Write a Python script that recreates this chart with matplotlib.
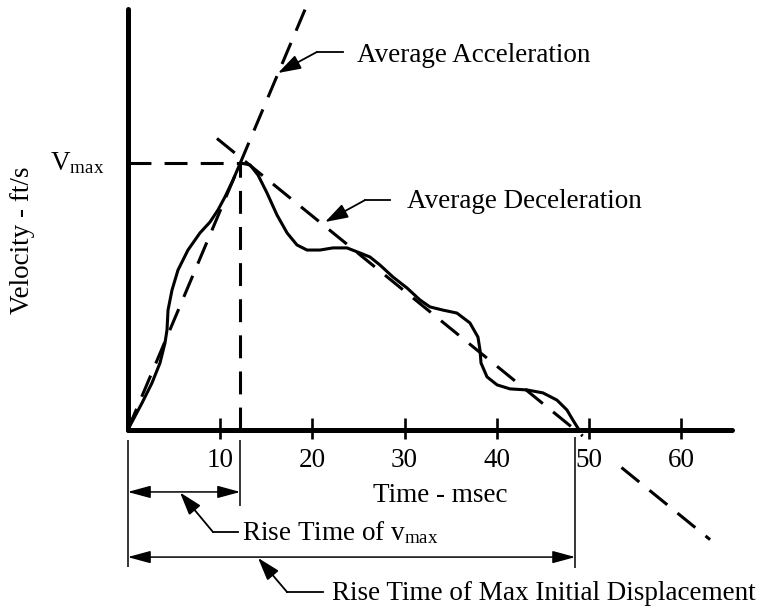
import matplotlib
matplotlib.use('Agg')
import matplotlib.pyplot as plt
import numpy as np

matplotlib.rcParams['font.family'] = 'Liberation Serif'
matplotlib.rcParams['mathtext.fontset'] = 'custom'
matplotlib.rcParams['mathtext.rm'] = 'Liberation Serif'
matplotlib.rcParams['lines.scale_dashes'] = False

# velocity pulse (time in msec, velocity normalised to Vmax)
time = [0.0, 1.55, 2.63, 3.50, 4.04, 4.26, 4.37, 4.80, 5.45, 6.53, 7.83, 8.92,
        9.78, 10.54, 11.41, 12.2, 13.25, 14.12, 15.09, 16.18, 17.27, 18.34,
        19.43, 20.83, 22.24, 23.76, 25.17, 26.25, 27.33, 28.74, 30.26, 31.67,
        32.75, 34.16, 35.67, 37.08, 37.95, 38.17, 38.28, 38.93, 40.02, 41.42,
        43.26, 44.99, 46.51, 47.59, 48.24, 48.78, 48.9]
velocity = [0.0, 0.101, 0.176, 0.251, 0.326, 0.375, 0.449, 0.524, 0.599, 0.674,
            0.738, 0.779, 0.824, 0.873, 0.936, 1.0, 0.993, 0.955, 0.888, 0.805,
            0.738, 0.693, 0.674, 0.674, 0.682, 0.682, 0.663, 0.648, 0.618, 0.573,
            0.532, 0.487, 0.461, 0.449, 0.438, 0.401, 0.348, 0.300, 0.251, 0.199,
            0.169, 0.154, 0.150, 0.139, 0.112, 0.075, 0.037, 0.007, 0.0]

t_peak = 12.2
v_max = 1.0
t_end = 48.5          # where the average deceleration line meets the axis
x_ticks = [10, 20, 30, 40, 50, 60]
x_tick_labels = ['10', '20', '30', '40', '50', '60']

# guide lines (start/end in data units)
accel_t = [0.0, 19.5]
decel_upper_t = [9.67, 49.3]
decel_lower_t = [53.5, 63.1]
decel_slope = v_max * 1.092 / (t_end - 9.67)

fig = plt.figure(figsize=(7.65, 6.08), dpi=100)
ax = fig.add_axes([0, 0, 1, 1])
ax.set_xlim(-13.835, 69.05)
ax.set_ylim(-0.6667, 1.6105)
ax.axis('off')

fs = 19.5
dash = (0, (16.5, 9.5))

# axes
ax.plot([0, 0], [0, 1.577], color='black', lw=3.6, solid_capstyle='round')
ax.plot([0, 65.5], [0, 0], color='black', lw=3.6, solid_capstyle='round')
ax.vlines(x_ticks, -0.034, 0.045, color='black', lw=1.9)
for xt, lab in zip(x_ticks, x_tick_labels):
    ax.text(xt, -0.139, lab, ha='center', va='baseline', fontsize=fs)

ax.text(33.89, -0.270, 'Time - msec', ha='center', va='baseline', fontsize=fs)
ax.text(-11.45, 0.71, 'Velocity - ft/s', ha='center', va='center',
        rotation=90, fontsize=fs)
ax.text(-8.42, 0.975, r'$\mathrm{V_{max}}$', ha='left', va='baseline', fontsize=fs)

# velocity curve
ax.plot(time, velocity, color='black', lw=2.2, solid_joinstyle='round',
        solid_capstyle='round')

# Vmax reference lines
ax.plot([0, t_peak], [v_max, v_max], color='black', lw=2.2, linestyle=dash)
ax.plot([t_peak, t_peak], [0, v_max], color='black', lw=2.2, linestyle=dash)

# average acceleration / deceleration
accel_v = [t * v_max / t_peak for t in accel_t]
ax.plot(accel_t, accel_v, color='black', lw=2.2, linestyle=dash)
for seg in (decel_upper_t, decel_lower_t):
    ax.plot(seg, [decel_slope * (t_end - t) for t in seg], color='black',
            lw=2.2, linestyle=dash)


def leader(points, tip, text, text_xy):
    xs, ys = zip(*points)
    ax.plot(xs, ys, color='black', lw=1.3)
    ax.annotate('', xy=tip, xytext=points[-1],
                arrowprops=dict(arrowstyle='-|>,head_length=1.4,head_width=0.45',
                                mutation_scale=10, color='black', lw=1.3,
                                shrinkA=0, shrinkB=0))
    ax.text(text_xy[0], text_xy[1], text, ha='left', va='baseline', fontsize=fs)


leader([(23.33, 1.416), (20.51, 1.416)], (16.28, 1.337),
       'Average Acceleration', (24.84, 1.378))
leader([(28.42, 0.861), (25.71, 0.861)], (21.38, 0.779),
       'Average Deceleration', (30.26, 0.831))

# dimension lines below the axis
ax.vlines([0, t_peak, t_end], [-0.037, -0.037, -0.026], [-0.513, -0.285, -0.517],
          color='black', lw=1.1)
dim_style = dict(arrowstyle='<|-|>,head_length=1.4,head_width=0.38',
                 mutation_scale=10, color='black', lw=1.1, shrinkA=0, shrinkB=0)
ax.annotate('', xy=(0, -0.232), xytext=(t_peak, -0.232), arrowprops=dim_style)
ax.annotate('', xy=(0, -0.476), xytext=(t_end, -0.476), arrowprops=dim_style)

leader([(11.95, -0.382), (9.24, -0.382)], (5.67, -0.234),
       r'Rise Time of $\mathrm{v_{max}}$', (12.4, -0.412))
leader([(21.15, -0.607), (17.27, -0.607)], (14.12, -0.479),
       'Rise Time of Max Initial Displacement', (22.13, -0.637))

fig.savefig('out.png', dpi=100, facecolor='white')
